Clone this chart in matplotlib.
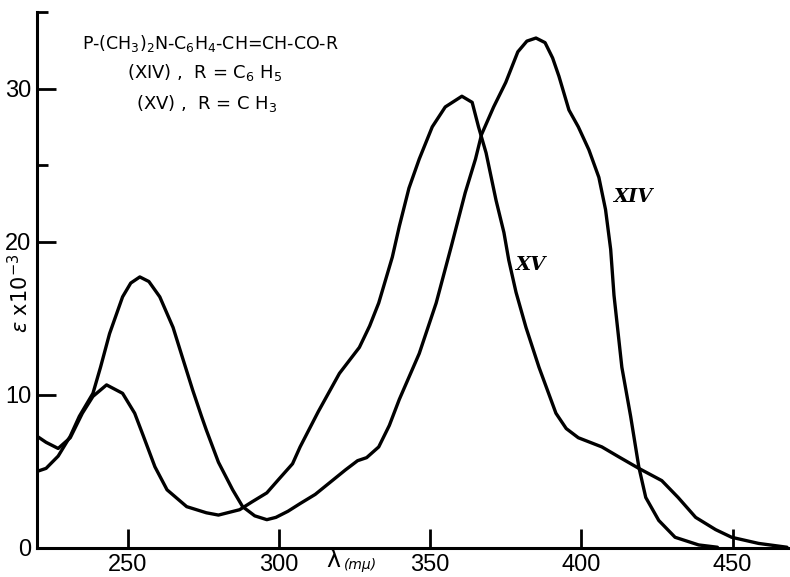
import matplotlib.pyplot as plt
import numpy as np

# XIV: R = C6H5
wl_xiv = [220, 223, 227, 231, 234, 238.5, 241, 244, 248.3, 251, 254, 257, 260.6,
          265, 268, 271.5, 274.4, 276, 280, 284.7, 288, 292, 296, 299, 303, 307,
          312, 317, 322, 326, 329, 333, 336.5, 339.8, 346.4, 352, 357, 361.6, 365,
          367, 371, 375, 379, 382, 385, 388, 390.5, 392.6, 395.9, 399, 402.5,
          405.8, 408, 409.7, 410.8, 413.4, 416.3, 419, 421.3, 425.6, 431, 438.8, 445]
eps_xiv = [5.0, 5.2, 6.0, 7.3, 8.6, 10.1, 11.8, 14.0, 16.4, 17.3, 17.7, 17.4, 16.4,
           14.4, 12.5, 10.3, 8.6, 7.7, 5.6, 3.8, 2.7, 2.1, 1.85, 2.0, 2.4, 2.9,
           3.5, 4.3, 5.1, 5.7, 5.9, 6.6, 8.0, 9.7, 12.7, 16.0, 19.7, 23.2, 25.4,
           27.0, 28.8, 30.4, 32.4, 33.1, 33.3, 33.0, 32.0, 30.8, 28.6, 27.5, 26.0,
           24.2, 22.1, 19.5, 16.5, 11.8, 8.6, 5.3, 3.3, 1.8, 0.7, 0.2, 0.05]

# XV: R = CH3
wl_xv = [220, 223, 227, 231, 235, 238.5, 243, 248.3, 252.3, 255, 259, 263, 269.5,
         276, 280, 287, 291, 296, 300, 304.5, 307, 313, 320, 326.6, 330, 333,
         337.5, 339.8, 343, 346.4, 350.7, 355, 360.5, 363.9, 366, 368.5, 371.8,
         374.4, 376, 378.4, 381.7, 386, 391.6, 395, 399, 406.8, 412.4, 419,
         426.6, 432, 437.8, 444.4, 449.7, 458.6, 468]
eps_xv = [7.3, 6.9, 6.5, 7.2, 8.8, 9.9, 10.65, 10.1, 8.8, 7.4, 5.3, 3.8, 2.7,
          2.3, 2.15, 2.5, 3.0, 3.6, 4.5, 5.5, 6.6, 8.9, 11.4, 13.1, 14.5, 16.0,
          19.0, 21.0, 23.5, 25.4, 27.5, 28.8, 29.5, 29.1, 27.5, 25.8, 22.7,
          20.6, 18.8, 16.7, 14.4, 11.8, 8.8, 7.8, 7.2, 6.6, 5.95, 5.2,
          4.4, 3.3, 2.0, 1.2, 0.7, 0.3, 0.05]

xticks = [250, 300, 350, 400, 450]
yticks = [0, 10, 20, 30]


def main():
    fig = plt.figure(figsize=(7.9, 5.77), dpi=100)
    ax = fig.add_axes([37 / 790, 1 - 548 / 577, 1 - 37 / 790, (548 - 12) / 577])

    ax.plot(wl_xiv, eps_xiv, color="black", lw=2.4, solid_joinstyle="round",
            solid_capstyle="round")
    ax.plot(wl_xv, eps_xv, color="black", lw=2.4, solid_joinstyle="round",
            solid_capstyle="round")

    ax.set_xlim(220, 469)
    ax.set_ylim(0, 35)

    for s in ["top", "right"]:
        ax.spines[s].set_visible(False)
    for s in ["left", "bottom"]:
        ax.spines[s].set_linewidth(2.2)

    ax.set_xticks(xticks)
    ax.set_yticks(yticks)
    ax.set_yticks([25, 35], minor=True)
    ax.tick_params(axis="both", which="major", direction="in", length=14, width=2,
                   labelsize=17, pad=4)
    ax.tick_params(axis="y", which="minor", direction="in", length=8, width=2)
    for lab in ax.get_xticklabels() + ax.get_yticklabels():
        lab.set_family("Liberation Sans")

    # axis labels
    ax.text(315.5, -0.8, "λ", fontsize=17, ha="left", va="center", clip_on=False)
    ax.text(321.5, -1.1, "(mμ)", fontsize=10, style="italic", ha="left",
            va="center", clip_on=False)
    fig.text(20 / 790, 1 - 293 / 577, r"$\epsilon$ x10$^{-3}$", rotation=90,
             fontsize=15, ha="center", va="center")

    # formula block
    fig.text(210 / 790, 1 - 43 / 577, r"P-(CH$_3$)$_2$N-C$_6$H$_4$-CH=CH-CO-R",
             fontsize=12.5, ha="center", va="center")
    fig.text(205 / 790, 1 - 72 / 577, r"(XIV) ,  R = C$_6$ H$_5$",
             fontsize=13, ha="center", va="center")
    fig.text(207 / 790, 1 - 103 / 577, r"(XV) ,  R = C H$_3$",
             fontsize=13, ha="center", va="center")

    # curve labels
    ax.text(410.5, 22.9, "XIV", family="DejaVu Serif", fontsize=14,
            weight="bold", style="italic", ha="left", va="center")
    ax.text(378, 18.5, "XV", family="DejaVu Serif", fontsize=14,
            weight="bold", style="italic", ha="left", va="center")

    plt.savefig("out.png", dpi=100)


if __name__ == '__main__':
    main()
